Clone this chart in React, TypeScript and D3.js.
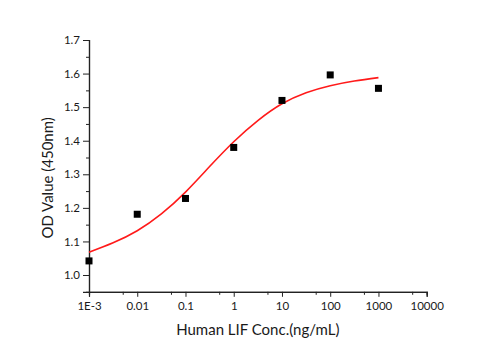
import { useEffect, useRef } from "react";
import * as d3 from "d3";

// measured OD at each concentration
const concentrations = [0.001, 0.01, 0.1, 1, 10, 100, 1000];
const odValues = [1.042, 1.181, 1.228, 1.38, 1.52, 1.596, 1.556];

// fitted curve, sampled every half decade
const fitConc = [0.001, 0.00316, 0.01, 0.0316, 0.1, 0.316, 1, 3.16, 10, 31.6, 100, 316, 1000];
const fitOD = [1.068, 1.096, 1.132, 1.182, 1.247, 1.323, 1.397, 1.46, 1.51, 1.543, 1.564, 1.578, 1.588];

// axis ticks
const xTicks = [0.001, 0.01, 0.1, 1, 10, 100, 1000, 10000];
const xTickLabels = ["1E-3", "0.01", "0.1", "1", "10", "100", "1000", "10000"];
const xMinorTicks = [0.005, 0.05, 0.5, 5, 50, 500, 5000];
const yTicks = [1.0, 1.1, 1.2, 1.3, 1.4, 1.5, 1.6, 1.7];
const yMinorTicks = [1.05, 1.15, 1.25, 1.35, 1.45, 1.55, 1.65];

const W = 496;
const H = 350;
const left = 89;
const right = 426.7;
const top = 40;
const bottom = 291.8;
const FONT = "Lato, 'Open Sans', sans-serif";

export default function App() {
  const ref = useRef<SVGSVGElement>(null);

  useEffect(() => {
    const svg = d3.select(ref.current);
    svg.selectAll("*").remove();

    const x = d3.scaleLog().domain([0.001, 10000]).range([left, right]);
    const y = d3.scaleLinear().domain([0.95, 1.7]).range([bottom, top]);

    // x axis
    const gx = svg.append("g").attr("transform", `translate(0,${bottom})`);
    gx.call(
      d3
        .axisBottom(x)
        .tickValues(xTicks)
        .tickSize(5)
        .tickPadding(5)
        .tickFormat((_d, i) => xTickLabels[i])
    );
    gx.append("g").call(
      d3.axisBottom(x).tickValues(xMinorTicks).tickSize(3).tickFormat(() => "")
    );

    // y axis
    const gy = svg.append("g").attr("transform", `translate(${left},0)`);
    gy.call(
      d3
        .axisLeft(y)
        .tickValues(yTicks)
        .tickSize(6)
        .tickPadding(3)
        .tickFormat(d3.format(".1f"))
    );
    gy.append("g").call(
      d3.axisLeft(y).tickValues(yMinorTicks).tickSize(3).tickFormat(() => "")
    );

    svg.selectAll(".domain").attr("stroke", "#222").attr("stroke-width", 1.2);
    svg.selectAll(".tick line").attr("stroke", "#222");
    svg
      .selectAll(".tick text")
      .attr("font-family", FONT)
      .attr("font-size", 11.5)
      .attr("fill", "#1a1a1a");
    svg.selectAll("g > g > g > .domain").remove();

    // fitted curve
    const line = d3
      .line<number>()
      .x((_d, i) => x(fitConc[i]))
      .y((d) => y(d))
      .curve(d3.curveNatural);
    svg
      .append("path")
      .attr("d", line(fitOD))
      .attr("fill", "none")
      .attr("stroke", "#ff1a1a")
      .attr("stroke-width", 1.6);

    // data points
    const s = 7;
    svg
      .append("g")
      .selectAll("rect")
      .data(odValues)
      .join("rect")
      .attr("x", (_d, i) => x(concentrations[i]) - s / 2)
      .attr("y", (d) => y(d) - s / 2)
      .attr("width", s)
      .attr("height", s)
      .attr("fill", "#000");

    // axis titles
    svg
      .append("text")
      .attr("x", (left + right) / 2)
      .attr("y", 335)
      .attr("text-anchor", "middle")
      .attr("font-family", FONT)
      .attr("font-size", 15)
      .attr("fill", "#1a1a1a")
      .text("Human LIF Conc.(ng/mL)");
    svg
      .append("text")
      .attr("transform", `translate(53,${(top + bottom) / 2 + 12}) rotate(-90)`)
      .attr("text-anchor", "middle")
      .attr("font-family", FONT)
      .attr("font-size", 15)
      .attr("fill", "#1a1a1a")
      .text("OD Value (450nm)");
  }, []);

  return (
    <svg
      ref={ref}
      width={W}
      height={H}
      style={{ position: "absolute", left: 0, top: 0, background: "#fff" }}
    />
  );
}
